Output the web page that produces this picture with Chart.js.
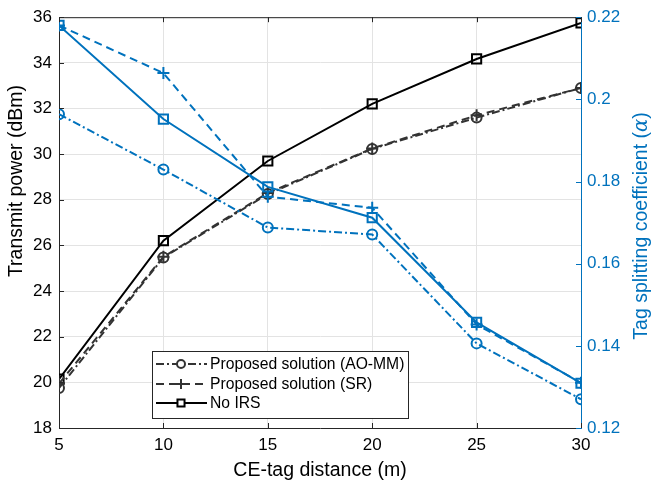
<!DOCTYPE html>
<html>
<head>
<meta charset="utf-8">
<script src="https://cdn.jsdelivr.net/npm/chart.js@4.4.0/dist/chart.umd.min.js"></script>
<style>
  html, body { margin: 0; padding: 0; background: #fff; }
  #wrap { width: 653px; height: 482px; }
</style>
</head>
<body>
<div id="wrap"><canvas id="chart" width="653" height="482"></canvas></div>
<script>
// Datos
const distances = [5, 10, 15, 20, 25, 30];
const powerAoMm = [19.75, 25.47, 28.25, 30.23, 31.6, 32.9];
const powerSr = [19.95, 25.5, 28.3, 30.25, 31.7, 32.9];
const powerNoIrs = [20.14, 26.21, 29.7, 32.2, 34.17, 35.75];
const alphaAoMm = [0.1964, 0.1829, 0.1688, 0.1671, 0.1406, 0.1270];
const alphaSr = [0.2180, 0.2064, 0.1763, 0.1736, 0.1452, 0.1310];
const alphaNoIrs = [0.2180, 0.1952, 0.1787, 0.1712, 0.1457, 0.1309];
const seriesNames = ['Proposed solution (AO-MM)', 'Proposed solution (SR)', 'No IRS'];
const xTicks = [5, 10, 15, 20, 25, 30];
const leftTicks = [18, 20, 22, 24, 26, 28, 30, 32, 34, 36];
const rightTicks = [0.12, 0.14, 0.16, 0.18, 0.2, 0.22];

const BLUE = '#0072BD';
const DARK = '#333333';
const AXIS = '#262626';
const FONT = '"Liberation Sans", Arial, sans-serif';
const TICK_SIZE = 17;
const TITLE_SIZE = 19.5;

const pts = (ys) => distances.map((x, i) => ({ x: x, y: ys[i] }));
const dashDot = [8, 3, 2, 3];
const dashed = [8, 5];

function ds(label, data, axis, color, style, dash, radius) {
    return {
        label: label, data: pts(data), yAxisID: axis,
        borderColor: color, borderWidth: 2, borderDash: dash,
        pointStyle: style, pointRadius: radius, pointBorderWidth: 2,
        pointBorderColor: color, pointBackgroundColor: 'rgba(0,0,0,0)',
        fill: false, tension: 0
    };
}

const datasets = [
    ds('a-aomm', alphaAoMm, 'yR', BLUE, 'circle', dashDot, 5),
    ds('a-sr', alphaSr, 'yR', BLUE, 'cross', dashed, 6),
    ds('a-noirs', alphaNoIrs, 'yR', BLUE, 'rect', [], 6.5),
    ds(seriesNames[0], powerAoMm, 'yL', DARK, 'circle', dashDot, 5),
    ds(seriesNames[1], powerSr, 'yL', DARK, 'cross', dashed, 6),
    ds(seriesNames[2], powerNoIrs, 'yL', '#000000', 'rect', [], 6.5)
];

// Marcas hacia adentro, borde superior, titulos de ejes y leyenda
const matlabLook = {
    id: 'matlabLook',
    afterDraw(chart) {
        const ctx = chart.ctx;
        const a = chart.chartArea;
        const sx = chart.scales.x, sl = chart.scales.yL, sr = chart.scales.yR;
        ctx.save();
        ctx.lineWidth = 1;
        // marco
        ctx.strokeStyle = AXIS;
        ctx.beginPath();
        ctx.moveTo(a.left, a.top + 0.5); ctx.lineTo(a.right, a.top + 0.5);
        ctx.stroke();
        // ticks
        xTicks.forEach(v => {
            const px = Math.round(sx.getPixelForValue(v)) + 0.5;
            ctx.beginPath();
            ctx.moveTo(px, a.bottom); ctx.lineTo(px, a.bottom - 5);
            ctx.moveTo(px, a.top); ctx.lineTo(px, a.top + 5);
            ctx.stroke();
        });
        leftTicks.forEach(v => {
            const py = Math.round(sl.getPixelForValue(v)) + 0.5;
            ctx.beginPath();
            ctx.moveTo(a.left, py); ctx.lineTo(a.left + 5, py);
            ctx.stroke();
        });
        ctx.strokeStyle = BLUE;
        rightTicks.forEach(v => {
            const py = Math.round(sr.getPixelForValue(v)) + 0.5;
            ctx.beginPath();
            ctx.moveTo(a.right, py); ctx.lineTo(a.right - 5, py);
            ctx.stroke();
        });
        // titulos de ejes Y
        ctx.font = TITLE_SIZE + 'px ' + FONT;
        ctx.fillStyle = '#000';
        ctx.textAlign = 'center';
        ctx.textBaseline = 'middle';
        ctx.save();
        ctx.translate(17, 181);
        ctx.rotate(-Math.PI / 2);
        ctx.fillText('Transmit power (dBm)', 0, 0);
        ctx.restore();

        ctx.save();
        ctx.translate(642, 226);
        ctx.rotate(-Math.PI / 2);
        ctx.fillStyle = BLUE;
        const p1 = 'Tag splitting coefficient (';
        const p2 = 'α';
        const p3 = ')';
        const f1 = TITLE_SIZE + 'px ' + FONT, f2 = 'italic ' + TITLE_SIZE + 'px "DejaVu Serif", serif';
        ctx.font = f1; const w1 = ctx.measureText(p1).width, w3 = ctx.measureText(p3).width;
        ctx.font = f2; const w2 = ctx.measureText(p2).width;
        let x0 = -(w1 + w2 + w3) / 2;
        ctx.textAlign = 'left';
        ctx.font = f1; ctx.fillText(p1, x0, 0);
        ctx.font = f2; ctx.fillText(p2, x0 + w1, 0);
        ctx.font = f1; ctx.fillText(p3, x0 + w1 + w2, 0);
        ctx.restore();

        // leyenda
        const lx = 152, ly = 351, lw = 256, lh = 67;
        ctx.fillStyle = '#fff';
        ctx.fillRect(lx, ly, lw, lh);
        ctx.strokeStyle = AXIS;
        ctx.lineWidth = 1;
        ctx.strokeRect(lx + 0.5, ly + 0.5, lw, lh);
        const rows = [364, 384, 403];
        const legendRadius = [4, 5, 5];
        [3, 4, 5].forEach((di, k) => {
            const d = chart.data.datasets[di];
            const y = rows[k];
            ctx.strokeStyle = d.borderColor;
            ctx.lineWidth = 2;
            ctx.setLineDash(d.borderDash);
            ctx.beginPath();
            ctx.moveTo(156, y); ctx.lineTo(207, y);
            ctx.stroke();
            ctx.setLineDash([]);
            ctx.fillStyle = '#fff';
            Chart.helpers.drawPoint(ctx, {
                pointStyle: d.pointStyle, radius: legendRadius[k], borderWidth: 2, rotation: 0
            }, 181, y);
            ctx.fillStyle = '#000';
            ctx.font = '15.7px ' + FONT;
            ctx.textAlign = 'left';
            ctx.textBaseline = 'middle';
            ctx.fillText(d.label, 210, y + 1);
        });
        ctx.restore();
    }
};

const ctx = document.getElementById('chart').getContext('2d');
new Chart(ctx, {
    type: 'line',
    data: { datasets: datasets },
    options: {
        responsive: false,
        animation: false,
        layout: { padding: { top: 16, left: 0, right: 0, bottom: 0 } },
        plugins: { legend: { display: false }, tooltip: { enabled: false } },
        scales: {
            x: {
                type: 'linear', min: 5, max: 30,
                afterBuildTicks: (s) => { s.ticks = xTicks.map(v => ({ value: v })); },
                afterFit: (s) => { s.height = 54; },
                grid: { color: '#e3e3e3', drawTicks: false },
                border: { color: AXIS },
                ticks: { padding: 7, color: '#000', font: { family: FONT, size: TICK_SIZE } },
                title: {
                    display: true, text: 'CE-tag distance (m)', color: '#000',
                    font: { family: FONT, size: TITLE_SIZE }, padding: { top: 0, bottom: 0 }
                }
            },
            yL: {
                position: 'left', min: 18, max: 36,
                afterBuildTicks: (s) => { s.ticks = leftTicks.map(v => ({ value: v })); },
                afterFit: (s) => { s.width = 59; },
                grid: { color: '#e3e3e3', drawTicks: false },
                border: { color: AXIS },
                ticks: { padding: 7, color: '#000', font: { family: FONT, size: TICK_SIZE } }
            },
            yR: {
                position: 'right', min: 0.12, max: 0.22,
                afterBuildTicks: (s) => { s.ticks = rightTicks.map(v => ({ value: v })); },
                afterFit: (s) => { s.width = 72; },
                grid: { display: false, drawTicks: false },
                border: { color: BLUE },
                ticks: {
                    padding: 6, color: BLUE, font: { family: FONT, size: TICK_SIZE },
                    callback: (v) => String(Math.round(v * 100) / 100)
                }
            }
        }
    },
    plugins: [matlabLook]
});
</script>
</body>
</html>
